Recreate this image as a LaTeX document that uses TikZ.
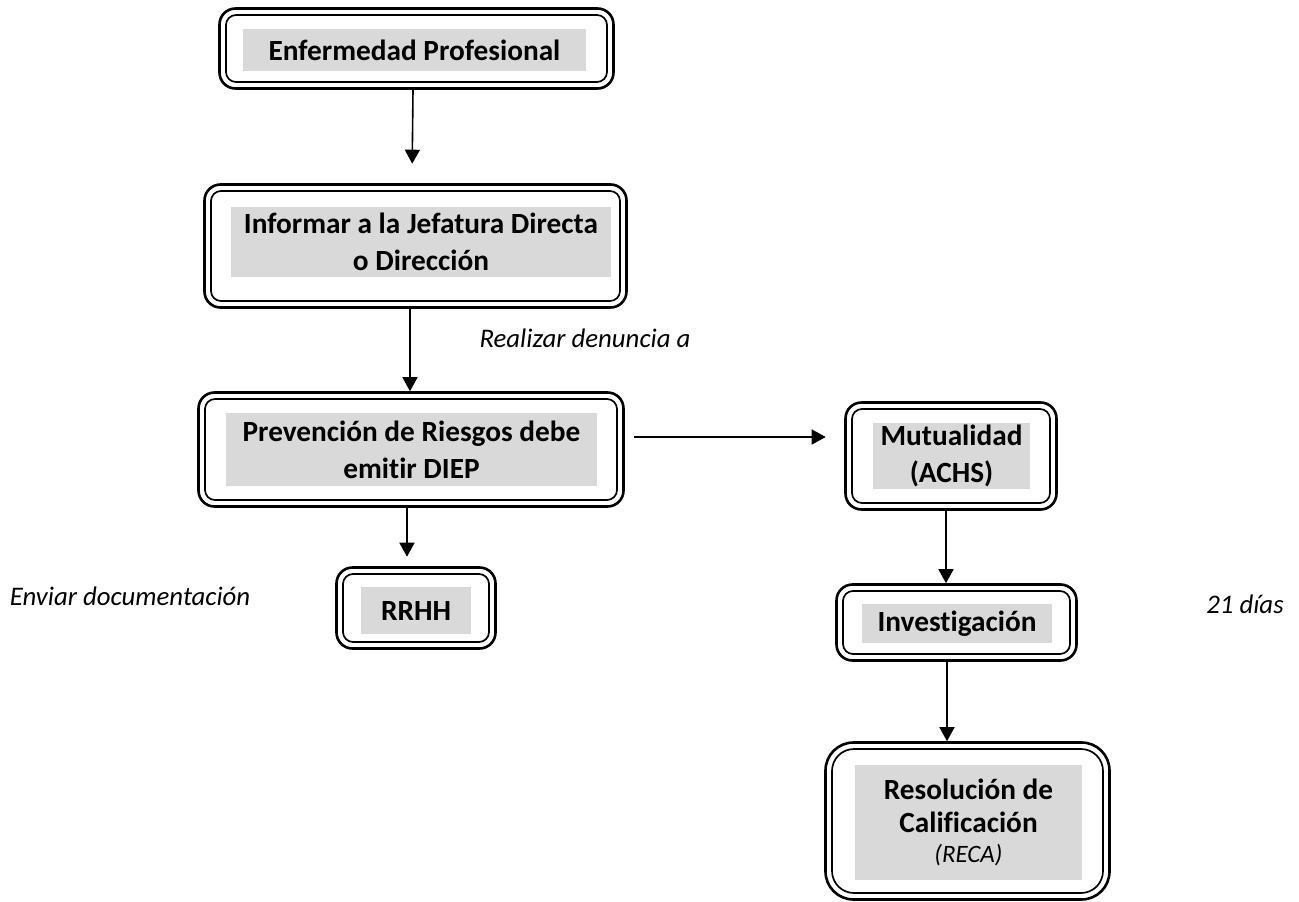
\documentclass[tikz,border=0pt]{standalone}
\usepackage{fontspec}
\setmainfont{Carlito}[Ligatures={NoCommon}]
\usetikzlibrary{arrows.meta}
\definecolor{greyfill}{RGB}{217,217,217}
\tikzset{
  dbox/.style={draw, line width=2.6pt, rounded corners=#1, inner sep=0pt,
    path picture={\draw[line width=1.7pt, rounded corners=#1-6pt]
      ([shift={(6.5pt,-6.5pt)}]path picture bounding box.north west) rectangle
      ([shift={(-6.5pt,6.5pt)}]path picture bounding box.south east);}},
  dbox/.default=16pt,
  greytext/.style={fill=greyfill, inner sep=0pt, align=center, font=\bfseries\fontsize{29.3}{37}\selectfont},
  lbl/.style={inner sep=0pt, font=\itshape\fontsize{26.8}{30}\selectfont},
  arr/.style={line width=1.6pt, -{Triangle[length=14pt,width=15pt]}}
}
\begin{document}
\begin{tikzpicture}[x=1pt,y=-1pt]
\useasboundingbox (0,0) rectangle (1299,902);
% outer boxes
\node[dbox, minimum width=394pt, minimum height=80pt] (b1) at (416.5,48.5) {};
\node[dbox, minimum width=422pt, minimum height=123pt] (b2) at (415.5,246) {};
\node[dbox, minimum width=425pt, minimum height=114pt] (b3) at (411,449.5) {};
\node[dbox, minimum width=211pt, minimum height=107pt] (b4) at (951,456) {};
\node[dbox, minimum width=159pt, minimum height=81pt] (b5) at (416,608) {};
\node[dbox, minimum width=240pt, minimum height=76pt] (b6) at (956.5,622.5) {};
\node[dbox=28pt, minimum width=284pt, minimum height=157pt] (b7) at (967.5,821) {};
% grey text fields
\node[greytext, minimum width=343pt, minimum height=42pt] (g1) at (414.5,50) {Enfermedad Profesional};
\node[greytext, minimum width=380pt, minimum height=70pt] (g2) at (421,242) {Informar a la Jefatura Directa\\o Dirección};
\node[greytext, minimum width=371pt, minimum height=73pt] (g3) at (411.5,449.5) {Prevención de Riesgos debe\\emitir DIEP};
\node[greytext, minimum width=157pt, minimum height=66pt] (g4) at (951.5,456) {Mutualidad\\(ACHS)};
\node[greytext, minimum width=110pt, minimum height=47pt] (g5) at (416,610.5) {RRHH};
\node[greytext, minimum width=190pt, minimum height=39pt] (g6) at (957,623.5) {Investigación};
\node[greytext, minimum width=227pt, minimum height=115pt, font=\bfseries\fontsize{29.3}{33}\selectfont] (g7) at (968.5,822.5) {Resolución de\\Calificación\\[-3pt]{\mdseries\itshape\fontsize{25}{28}\selectfont (RECA)}};
% labels
\node[lbl] (l1) at (585,338) {Realizar denuncia a};
\node[lbl] (l2) at (130,596) {Enviar documentación};
\node[lbl] (l3) at (1245,604) {21 días};
% connectors
\draw[arr, shorten >=19.5pt] ([xshift=-3.5pt]b1.south) -- ([xshift=-3.5pt]b2.north);
\draw[arr] ([xshift=-5.5pt]b2.south) -- ([xshift=-1pt]b3.north);
\draw[arr, shorten >=9.5pt] ([xshift=-4pt]b3.south) -- ([xshift=-9pt]b5.north);
\draw[arr, shorten <=9.5pt, shorten >=18.5pt] ([yshift=12.5pt]b3.east) -- ([yshift=19pt]b4.west);
\draw[arr] ([xshift=-5pt]b4.south) -- ([xshift=-10.5pt]b6.north);
\draw[arr] ([xshift=-9.5pt]b6.south) -- ([xshift=-20.5pt]b7.north);
\end{tikzpicture}
\end{document}
